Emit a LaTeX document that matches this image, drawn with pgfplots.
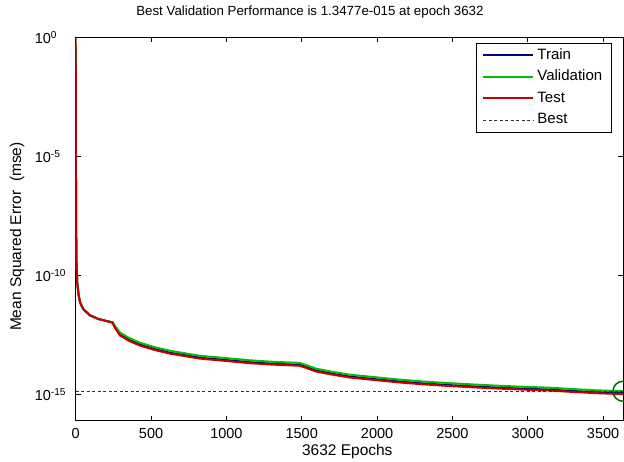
\documentclass[border=0pt]{standalone}
\usepackage{pgfplots}
\pgfplotsset{compat=1.18}
\usepackage{fontspec}
\setmainfont{Liberation Sans}
\definecolor{trainc}{RGB}{0,0,128}
\definecolor{valc}{RGB}{0,190,0}
\definecolor{testc}{RGB}{200,0,0}
\definecolor{bestc}{RGB}{0,110,0}
\begin{document}
\begin{tikzpicture}
\path[use as bounding box] (0,0) rectangle (624pt,462pt);
\begin{axis}[
  at={(75.7pt,41.3pt)}, anchor=south west,
  width=547.3pt, height=383.4pt, scale only axis,
  xmin=0, xmax=3632,
  ymode=log, ymin=7.8e-17, ymax=1,
  xtick={0,500,1000,1500,2000,2500,3000,3500},
  ytick={1e-15,1e-10,1e-5,1},
  yticklabels={10\textsuperscript{-15},10\textsuperscript{-10},10\textsuperscript{-5},10\textsuperscript{0}},
  yminorticks=false, xminorticks=false,
  tick align=inside, major tick length=5pt,
  /pgf/number format/assume math mode=true,
  /pgf/number format/1000 sep={},
  scaled x ticks=false,
  axis line style={line width=0.8pt},
  every tick/.style={black, line width=0.8pt},
  xticklabel style={font=\fontsize{14.5}{16}\selectfont, anchor=center, yshift=-12.5pt},
  yticklabel style={font=\fontsize{14.5}{16}\selectfont, anchor=east, text width=37.7pt, align=left, inner xsep=3pt},
  title={Best Validation Performance is 1.3477e-015 at epoch 3632},
  title style={font=\fontsize{13.3}{15}\selectfont, at={(axis description cs:0.428,1)}, anchor=base, yshift=15.3pt},
  xlabel={3632 Epochs},
  xlabel style={font=\fontsize{15.5}{17}\selectfont, at={(axis description cs:0.4962,0)}, anchor=center, yshift=-30.5pt},
  ylabel={Mean Squared Error\ \ (mse)},
  ylabel style={font=\fontsize{15.5}{17}\selectfont, at={(axis description cs:-0.1072,0.48)}, anchor=center},
  legend cell align=left,
  legend image code/.code={\draw[#1] (0pt,0pt) -- (50pt,0pt);},
  legend style={at={(axis description cs:1,1)}, anchor=north east, xshift=-11.3pt, yshift=-6pt,
    font=\fontsize{15}{17}\selectfont, draw=black,
    inner xsep=6pt, inner ysep=4.7pt, row sep=7pt,
    nodes={inner xsep=3.3pt, inner ysep=0pt, text height=11pt, text depth=3.5pt}},
]
\addplot[trainc, line width=2pt] coordinates {
(0,0.4) (1,2.5e-4) (2,8e-7) (3,9e-9) (5,3.8e-10) (10,4.8e-11) (20,1.38e-11) (30,7.0e-12)
(50,3.75e-12) (95,2.07e-12) (150,1.46e-12) (227,1.10e-12) (245,1.03e-12)
(260,6.6e-13) (293,3.31e-13) (350,2.0e-13) (425,1.23e-13) (525,7.94e-14) (625,5.62e-14)
(823,3.47e-14) (1000,2.75e-14) (1153,2.24e-14) (1300,1.95e-14) (1484,1.74e-14) (1520,1.48e-14)
(1594,1.0e-14) (1700,7.41e-15) (1814,5.62e-15) (2000,4.27e-15) (2145,3.47e-15) (2300,2.89e-15)
(2476,2.45e-15) (2650,2.14e-15) (2807,1.91e-15) (3000,1.70e-15) (3137,1.59e-15) (3300,1.38e-15)
(3450,1.23e-15) (3632,1.12e-15)
};
\addlegendentry{Train}
\addplot[valc, line width=2pt] coordinates {
(0,0.5) (1,3.16e-4) (2,1e-6) (3,1e-8) (5,3.98e-10) (10,5.01e-11) (20,1.41e-11) (30,7.08e-12)
(50,3.80e-12) (95,2.09e-12) (150,1.48e-12) (227,1.12e-12) (245,1.05e-12)
(260,7.59e-13) (293,3.98e-13) (350,2.40e-13) (425,1.48e-13) (525,9.55e-14) (625,6.76e-14)
(823,4.17e-14) (1000,3.31e-14) (1153,2.69e-14) (1300,2.34e-14) (1484,2.09e-14) (1520,1.78e-14)
(1594,1.20e-14) (1700,8.91e-15) (1814,6.76e-15) (2000,5.13e-15) (2145,4.17e-15) (2300,3.47e-15)
(2476,2.95e-15) (2650,2.57e-15) (2807,2.29e-15) (3000,2.04e-15) (3137,1.91e-15) (3300,1.66e-15)
(3450,1.48e-15) (3632,1.3477e-15)
};
\addlegendentry{Validation}
\addplot[testc, line width=2pt] coordinates {
(0,0.9) (1,4e-4) (2,1.2e-6) (3,1.1e-8) (5,4.2e-10) (10,5.2e-11) (20,1.42e-11) (30,7.1e-12)
(50,3.8e-12) (95,2.08e-12) (150,1.47e-12) (227,1.11e-12) (245,1.04e-12)
(260,6.3e-13) (293,3.02e-13) (350,1.82e-13) (425,1.12e-13) (525,7.26e-14) (625,5.14e-14)
(823,3.17e-14) (1000,2.52e-14) (1153,2.04e-14) (1300,1.78e-14) (1484,1.59e-14) (1520,1.35e-14)
(1594,9.1e-15) (1700,6.77e-15) (1814,5.14e-15) (2000,3.90e-15) (2145,3.17e-15) (2300,2.64e-15)
(2476,2.24e-15) (2650,1.95e-15) (2807,1.74e-15) (3000,1.55e-15) (3137,1.45e-15) (3300,1.26e-15)
(3450,1.12e-15) (3632,1.02e-15)
};
\addlegendentry{Test}
\addplot[black!80, line width=0.7pt, dash pattern=on 3pt off 2.5pt] coordinates {(0,1.3477e-15) (3632,1.3477e-15)};
\addlegendentry{Best}
\addplot[bestc, only marks, mark=o, mark size=10pt, line width=1.5pt, forget plot] coordinates {(3632,1.3477e-15)};
\end{axis}
\end{tikzpicture}
\end{document}
